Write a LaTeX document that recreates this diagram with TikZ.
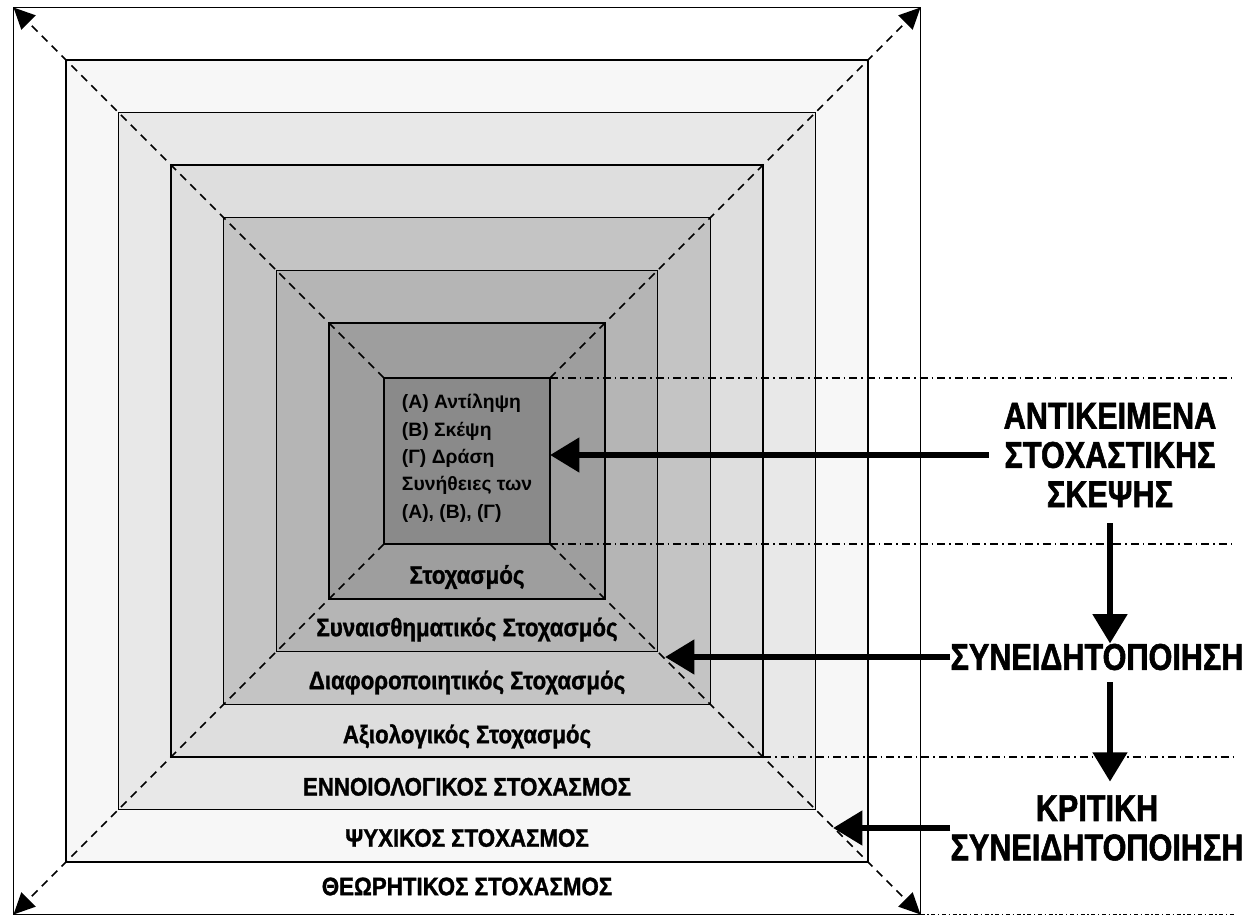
\documentclass[tikz,border=0pt]{standalone}
\usepackage{fontspec}
\setmainfont{Liberation Sans}
\newfontfamily\bandfont[FakeStretch=0.88, FakeBold=1.2]{Liberation Sans Bold}
\newfontfamily\bigfont[FakeStretch=0.82, FakeBold=1.5]{Liberation Sans Bold}
\newfontfamily\corefont{Liberation Sans Bold}
\usetikzlibrary{arrows.meta,positioning}

\definecolor{shadeA}{gray}{1}
\definecolor{shadeB}{gray}{0.97}
\definecolor{shadeC}{gray}{0.91}
\definecolor{shadeD}{gray}{0.87}
\definecolor{shadeE}{gray}{0.77}
\definecolor{shadeF}{gray}{0.71}
\definecolor{shadeG}{gray}{0.62}
\definecolor{shadeH}{gray}{0.54}

\tikzset{
  sq/.style={draw, line width=1.4pt, inner sep=0pt, outer sep=0pt,
    minimum width=#1*0.75pt, minimum height=#1*0.75pt},
  diag/.style={line width=1.3pt, dash pattern=on 6pt off 4.5pt,
    -{Triangle[length=16pt,width=15pt]}},
  dotdash/.style={line width=0.8pt, dash pattern=on 6pt off 3pt on 1.2pt off 3pt},
  fine/.style={line width=0.7pt, dash pattern=on 3pt off 2pt on 1pt off 2pt},
  bigarrow/.style={line width=5pt, -{Triangle[length=22pt,width=25pt]}},
  band/.style={font=\bandfont\fontsize{19}{21}\selectfont, inner sep=0pt},
  core/.style={font=\corefont\fontsize{14.5}{20.5}\selectfont, align=left, inner sep=0pt},
  biglab/.style={font=\bigfont\fontsize{28}{29.5}\selectfont, align=center, inner sep=0pt}
}

\begin{document}
\begin{tikzpicture}[x=0.75pt,y=-0.75pt]
\useasboundingbox (0,0) rectangle (1257,916);

% nested squares
\node[sq=907, fill=shadeA] (sq1) at (467,461){};
\node[sq=802, fill=shadeB] (sq2) at (467,461){};
\node[sq=697, fill=shadeC] (sq3) at (467,461){};
\node[sq=592, fill=shadeD] (sq4) at (467,461){};
\node[sq=487, fill=shadeE] (sq5) at (467,461){};
\node[sq=381, fill=shadeF] (sq6) at (467,461){};
\node[sq=276, fill=shadeG] (sq7) at (467,461){};
\node[sq=166, fill=shadeH] (sq8) at (467,461){};

% diagonals
\draw[diag] (sq8.north west) -- (sq1.north west);
\draw[diag] (sq8.north east) -- (sq1.north east);
\draw[diag] (sq8.south west) -- (sq1.south west);
\draw[diag] (sq8.south east) -- (sq1.south east);

% band labels
\node[band] (lab1) at ([yshift=21pt]sq1.south){ΘΕΩΡΗΤΙΚΟΣ ΣΤΟΧΑΣΜΟΣ};
\node[band] (lab2) at ([yshift=18pt]sq2.south){ΨΥΧΙΚΟΣ ΣΤΟΧΑΣΜΟΣ};
\node[band] (lab3) at ([yshift=17pt]sq3.south){ΕΝΝΟΙΟΛΟΓΙΚΟΣ ΣΤΟΧΑΣΜΟΣ};
\node[band] (lab4) at ([yshift=15.5pt]sq4.south){Αξιολογικός Στοχασμός};
\node[band] (lab5) at ([yshift=16.5pt]sq5.south){Διαφοροποιητικός Στοχασμός};
\node[band] (lab6) at ([yshift=16.5pt]sq6.south){Συναισθηματικός Στοχασμός};
\node[band] (lab7) at ([yshift=16.5pt]sq7.south){Στοχασμός};

\node[core] (core) at ([yshift=2pt]sq8.center){(Α) Αντίληψη\\(Β) Σκέψη\\(Γ) Δράση\\Συνήθειες των\\(Α), (Β), (Γ)};

% guide lines
\coordinate (edge) at (1235,0);
\draw[dotdash] (sq8.north east) -- (sq8.north east -| edge);
\draw[dotdash] (sq8.south east) -- (sq8.south east -| edge);
\draw[dotdash] (sq4.south east) -- (sq4.south east -| edge);
\draw[fine] (sq1.south east) -- (sq1.south east -| edge);

% right labels
\node[biglab] (obj) at (1110,455){ΑΝΤΙΚΕΙΜΕΝΑ\\ΣΤΟΧΑΣΤΙΚΗΣ\\ΣΚΕΨΗΣ};
\node[biglab] (aware) at (1097,657){ΣΥΝΕΙΔΗΤΟΠΟΙΗΣΗ};
\node[biglab] (crit) at (1097,828){ΚΡΙΤΙΚΗ\\ΣΥΝΕΙΔΗΤΟΠΟΙΗΣΗ};

\coordinate (tipB) at (665,657);
\coordinate (tipC) at (833,828);

\draw[bigarrow, shorten <=11pt] (obj.west) -- (obj.west -| sq8.east);
\draw[bigarrow] (aware.west) -- (tipB);
\draw[bigarrow] (aware.west |- tipC) -- (tipC);
\draw[bigarrow, shorten <=12pt] (obj.south) -- (obj.south |- aware.north);
\draw[bigarrow, shorten <=9pt, shorten >=10pt] (obj.south |- aware.south) -- (obj.south |- crit.north);

\end{tikzpicture}
\end{document}
